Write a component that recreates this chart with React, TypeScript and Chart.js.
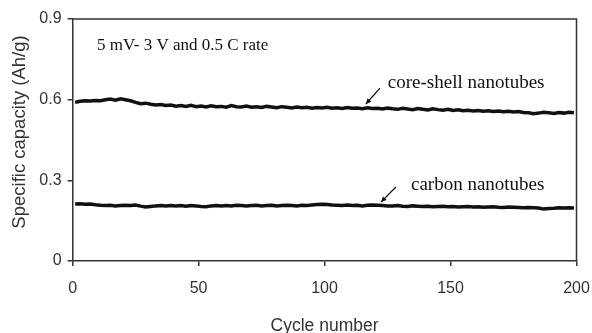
import React, { useEffect, useRef } from "react";
import { Chart, registerables } from "chart.js";

Chart.register(...registerables);

// cycle numbers 1,3,5,...,199
const cycles: number[] = Array.from({ length: 100 }, (_, i) => 1 + i * 2);

const coreShell: number[] = [
  0.590, 0.594, 0.596, 0.595, 0.597, 0.596, 0.600, 0.602, 0.598, 0.603,
  0.600, 0.596, 0.590, 0.585, 0.587, 0.583, 0.580, 0.582, 0.578, 0.580,
  0.576, 0.578, 0.575, 0.579, 0.574, 0.576, 0.573, 0.577, 0.574, 0.575,
  0.572, 0.578, 0.574, 0.573, 0.576, 0.572, 0.574, 0.571, 0.575, 0.573,
  0.570, 0.574, 0.572, 0.569, 0.573, 0.570, 0.572, 0.568, 0.571, 0.569,
  0.572, 0.568, 0.570, 0.567, 0.571, 0.568, 0.569, 0.566, 0.570, 0.567,
  0.568, 0.565, 0.569, 0.566, 0.564, 0.568, 0.565, 0.563, 0.567, 0.564,
  0.562, 0.566, 0.563, 0.561, 0.564, 0.560, 0.562, 0.559, 0.561, 0.558,
  0.560, 0.557, 0.559, 0.556, 0.558, 0.555, 0.557, 0.554, 0.556, 0.552,
  0.551, 0.548, 0.550, 0.553, 0.551, 0.549, 0.552, 0.550, 0.553, 0.551,
];

const carbon: number[] = [
  0.212, 0.213, 0.211, 0.212, 0.209, 0.207, 0.206, 0.207, 0.205, 0.206,
  0.207, 0.206, 0.208, 0.204, 0.201, 0.203, 0.205, 0.206, 0.205, 0.206,
  0.205, 0.206, 0.204, 0.206, 0.205, 0.203, 0.202, 0.205, 0.206, 0.205,
  0.206, 0.205, 0.207, 0.206, 0.205, 0.206, 0.207, 0.205, 0.206, 0.207,
  0.205, 0.206, 0.207, 0.206, 0.205, 0.207, 0.206, 0.208, 0.210, 0.211,
  0.210, 0.208, 0.207, 0.206, 0.208, 0.206, 0.207, 0.205, 0.207, 0.208,
  0.207, 0.206, 0.205, 0.205, 0.206, 0.204, 0.203, 0.205, 0.204, 0.203,
  0.204, 0.202, 0.203, 0.204, 0.202, 0.203, 0.201, 0.202, 0.203, 0.201,
  0.202, 0.200, 0.201, 0.202, 0.200, 0.199, 0.201, 0.200, 0.199, 0.198,
  0.199, 0.198, 0.197, 0.193, 0.195, 0.196, 0.198, 0.197, 0.198, 0.197,
];

const xTicks: number[] = [0, 50, 100, 150, 200];
const yTicks: number[] = [0, 0.3, 0.6, 0.9];

const xTitle = "Cycle number";
const yTitle = "Specific capacity (Ah/g)";
const conditionText = "5 mV- 3 V and 0.5 C rate";
const coreShellLabel = "core-shell nanotubes";
const carbonLabel = "carbon nanotubes";

// annotation anchors in data units: [cycle, capacity]
const conditionPos: [number, number] = [9.7, 0.8];
const coreShellTextPos: [number, number] = [125.1, 0.662];
const coreShellArrow: [number, number, number, number] = [122, 0.643, 116.4, 0.584];
const carbonTextPos: [number, number] = [134.3, 0.283];
const carbonArrow: [number, number, number, number] = [128.3, 0.275, 122.4, 0.219];

const SANS = '"Liberation Sans", Arial, sans-serif';
const SERIF = '"Liberation Serif", "Times New Roman", serif';

const annotationPlugin = {
  id: "annot",
  afterDraw(chart: any) {
    const { ctx, chartArea, scales } = chart;
    const xs = scales.x;
    const ys = scales.y;
    ctx.save();
    // top and right frame
    ctx.strokeStyle = "#333";
    ctx.lineWidth = 1.5;
    ctx.beginPath();
    ctx.moveTo(chartArea.left, chartArea.top);
    ctx.lineTo(chartArea.right, chartArea.top);
    ctx.lineTo(chartArea.right, chartArea.bottom);
    ctx.stroke();

    // y axis title
    ctx.fillStyle = "#333";
    ctx.font = `18.5px ${SANS}`;
    ctx.textAlign = "center";
    ctx.textBaseline = "middle";
    ctx.translate(20, 132);
    ctx.rotate(-Math.PI / 2);
    ctx.fillText(yTitle, 0, 0);
    ctx.setTransform(1, 0, 0, 1, 0, 0);

    ctx.fillStyle = "#111";
    ctx.textBaseline = "middle";
    ctx.textAlign = "left";
    const text = (t: string, p: [number, number], size: number) => {
      ctx.font = `${size}px ${SERIF}`;
      ctx.fillText(t, xs.getPixelForValue(p[0]), ys.getPixelForValue(p[1]));
    };
    text(conditionText, conditionPos, 17);
    text(coreShellLabel, coreShellTextPos, 19);
    text(carbonLabel, carbonTextPos, 19);

    const arrow = (a: [number, number, number, number]) => {
      const x1 = xs.getPixelForValue(a[0]);
      const y1 = ys.getPixelForValue(a[1]);
      const x2 = xs.getPixelForValue(a[2]);
      const y2 = ys.getPixelForValue(a[3]);
      ctx.strokeStyle = "#111";
      ctx.lineWidth = 1.3;
      ctx.beginPath();
      ctx.moveTo(x1, y1);
      ctx.lineTo(x2, y2);
      ctx.stroke();
      const ang = Math.atan2(y2 - y1, x2 - x1);
      const L = 6;
      ctx.beginPath();
      ctx.moveTo(x2, y2);
      ctx.lineTo(x2 - L * Math.cos(ang - 0.45), y2 - L * Math.sin(ang - 0.45));
      ctx.lineTo(x2 - L * Math.cos(ang + 0.45), y2 - L * Math.sin(ang + 0.45));
      ctx.closePath();
      ctx.fillStyle = "#111";
      ctx.fill();
    };
    arrow(coreShellArrow);
    arrow(carbonArrow);
    ctx.restore();
  },
};

export default function App() {
  const ref = useRef<HTMLCanvasElement | null>(null);
  useEffect(() => {
    document.body.style.margin = "0";
    const canvas = ref.current!;
    const tickFont = { family: SANS, size: 16 };
    const chart = new Chart(canvas, {
      type: "line",
      data: {
        datasets: [
          {
            label: coreShellLabel,
            data: cycles.map((c, i) => ({ x: c, y: coreShell[i] })),
            borderColor: "#111",
            borderWidth: 3.5,
            pointRadius: 0,
            tension: 0,
          },
          {
            label: carbonLabel,
            data: cycles.map((c, i) => ({ x: c, y: carbon[i] })),
            borderColor: "#111",
            borderWidth: 3.5,
            pointRadius: 0,
            tension: 0,
          },
        ],
      },
      options: {
        responsive: false,
        animation: false,
        layout: { padding: { left: 0, top: 19, right: 15.5, bottom: 0 } },
        plugins: { legend: { display: false }, tooltip: { enabled: false } },
        scales: {
          x: {
            type: "linear",
            min: 0,
            max: 200,
            afterBuildTicks: (s: any) => {
              s.ticks = xTicks.map((v) => ({ value: v }));
            },
            afterFit: (s: any) => {
              s.height = 72;
              s.paddingLeft = 0;
              s.paddingRight = 0;
            },
            grid: { drawOnChartArea: false, tickLength: 5, color: "#333", lineWidth: 1.5 },
            border: { color: "#333", width: 1.5 },
            ticks: { font: tickFont, color: "#333", padding: 12.5, maxRotation: 0 },
            title: {
              display: true,
              text: xTitle,
              font: { family: SANS, size: 17.5, lineHeight: 1 },
              color: "#333",
              padding: { top: 0, bottom: -2 },
            },
          },
          y: {
            type: "linear",
            min: 0,
            max: 0.9,
            afterBuildTicks: (s: any) => {
              s.ticks = yTicks.map((v) => ({ value: v }));
            },
            afterFit: (s: any) => {
              s.width = 72.6;
              s.paddingTop = 0;
              s.paddingBottom = 0;
            },
            grid: { drawOnChartArea: false, tickLength: 5, color: "#333", lineWidth: 1.5 },
            border: { color: "#333", width: 1.5 },
            ticks: {
              font: tickFont,
              color: "#333",
              padding: 6,
              callback: (v: any) => (v === 0 ? "0" : Number(v).toFixed(1)),
            },
            title: { display: false },
          },
        },
      },
      plugins: [annotationPlugin],
    } as any);
    return () => chart.destroy();
  }, []);
  return (
    <div style={{ width: 592, height: 333, background: "#fff" }}>
      <canvas ref={ref} width={592} height={333} />
    </div>
  );
}
